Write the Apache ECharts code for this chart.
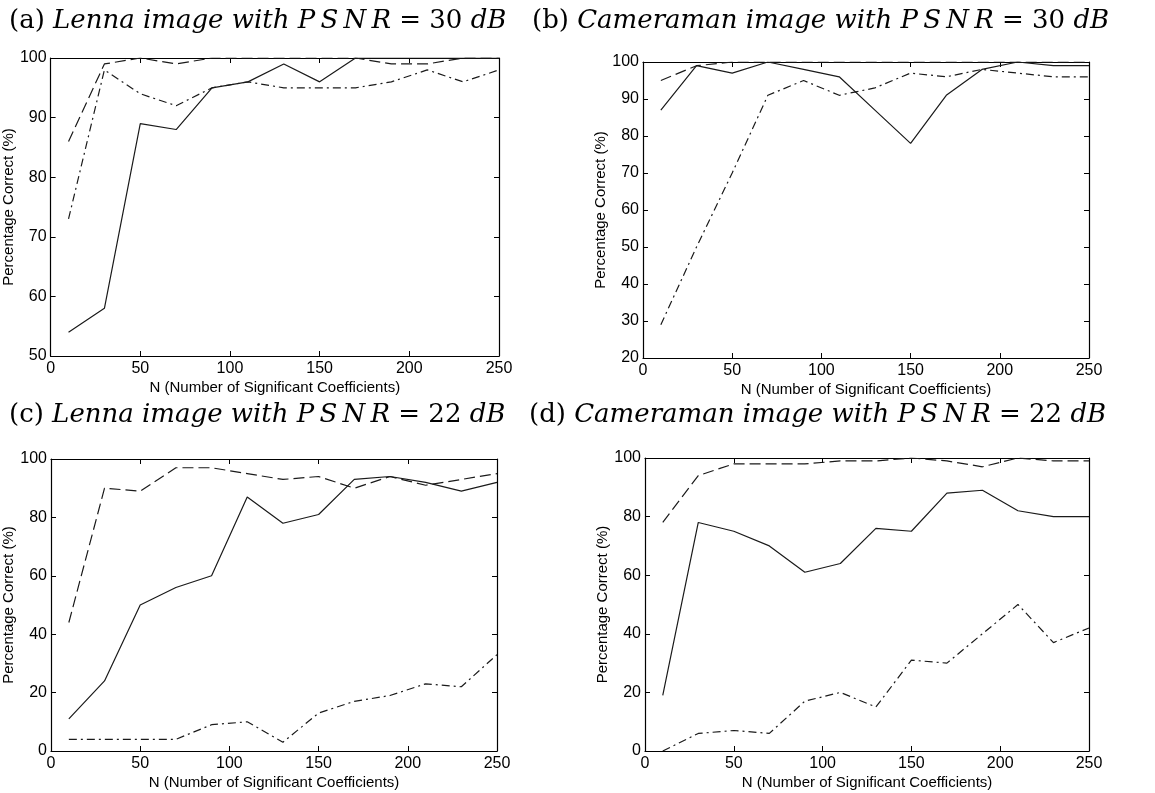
<!DOCTYPE html>
<html>
<head>
<meta charset="utf-8">
<script src="https://cdn.jsdelivr.net/npm/echarts@6/dist/echarts.min.js"></script>
<style>
html,body{margin:0;padding:0;background:#fff;}
#chart{width:1155px;height:793px;}
</style>
</head>
<body>
<div id="chart"></div>
<script>
// N (number of significant coefficients)
const nValues = [10, 30, 50, 70, 90, 110, 130, 150, 170, 190, 210, 230, 250];

// (a) Lenna, PSNR = 30 dB
const aSolid   = [54, 58, 89, 88, 95, 96, 99, 96, 100, 100, 100, 100, 100];
const aDashed  = [86, 99, 100, 99, 100, 100, 100, 100, 100, 99, 99, 100, 100];
const aDashDot = [73, 98, 94, 92, 95, 96, 95, 95, 95, 96, 98, 96, 98];

// (b) Cameraman, PSNR = 30 dB
const bSolid   = [87, 99, 97, 100, 98, 96, 87, 78, 91, 98, 100, 99, 99];
const bDashed  = [95, 99, 100, 100, 100, 100, 100, 100, 100, 100, 100, 100, 100];
const bDashDot = [29, 50, 70, 91, 95, 91, 93, 97, 96, 98, 97, 96, 96];

// (c) Lenna, PSNR = 22 dB
const cSolid   = [11, 24, 50, 56, 60, 87, 78, 81, 93, 94, 92, 89, 92];
const cDashed  = [44, 90, 89, 97, 97, 95, 93, 94, 90, 94, 91, 93, 95];
const cDashDot = [4, 4, 4, 4, 9, 10, 3, 13, 17, 19, 23, 22, 33];

// (d) Cameraman, PSNR = 22 dB
const dSolid   = [19, 78, 75, 70, 61, 64, 76, 75, 88, 89, 82, 80, 80];
const dDashed  = [78, 94, 98, 98, 98, 99, 99, 100, 99, 97, 100, 99, 99];
const dDashDot = [0, 6, 7, 6, 17, 20, 15, 31, 30, 40, 50, 37, 42];

// Titles / labels
const panelLetters = ['(a)', '(b)', '(c)', '(d)'];
const panelImages = ['Lenna', 'Cameraman', 'Lenna', 'Cameraman'];
const panelPsnr = ['30', '30', '22', '22'];
const xAxisName = 'N (Number of Significant Coefficients)';
const yAxisName = 'Percentage Correct (%)';
const yRanges = [[50, 100, 10], [20, 100, 10], [0, 100, 20], [0, 100, 20]];
const xRange = [0, 250, 50];

const panels = [
  {solid: aSolid, dashed: aDashed, dashdot: aDashDot},
  {solid: bSolid, dashed: bDashed, dashdot: bDashDot},
  {solid: cSolid, dashed: cDashed, dashdot: cDashDot},
  {solid: dSolid, dashed: dDashed, dashdot: dDashDot}
];

const grids = [
  {left: 49, top: 58, width: 450, height: 298},
  {left: 643, top: 62, width: 446, height: 296},
  {left: 51, top: 459, width: 446, height: 292},
  {left: 645, top: 458, width: 444, height: 293}
];
const titlePos = [
  {left: 4, top: 3},
  {left: 527, top: 3},
  {left: 4, top: 397},
  {left: 524, top: 397}
];

const sans = 'Liberation Sans, Arial, Helvetica, sans-serif';
const serif = 'DejaVu Serif, Liberation Serif, serif';
const lineColor = '#1a1a1a';
const thin = '\u2009';

const xAxes = [], yAxes = [], series = [], titles = [];
grids.forEach((g, i) => {
  const common = {gridIndex: i, type: 'value',
    axisLine: {show: true, onZero: false, lineStyle: {color: '#000', width: 1.2}},
    axisTick: {show: true, inside: true, length: 5, lineStyle: {color: '#000', width: 1}},
    splitLine: {show: false}};
  xAxes.push(Object.assign({}, common, {
    position: 'bottom', min: xRange[0], max: xRange[1], interval: xRange[2],
    axisLabel: {color: '#000', fontFamily: sans, fontSize: 16, margin: 5},
    name: xAxisName, nameLocation: 'middle', nameGap: 24,
    nameTextStyle: {color: '#000', fontFamily: sans, fontSize: 15}
  }));
  xAxes.push(Object.assign({}, common, {
    position: 'top', min: xRange[0], max: xRange[1], interval: xRange[2],
    axisLabel: {show: false}
  }));
  const yr = yRanges[i];
  yAxes.push(Object.assign({}, common, {
    position: 'left', min: yr[0], max: yr[1], interval: yr[2],
    axisLabel: {color: '#000', fontFamily: sans, fontSize: 16, margin: 4},
    name: yAxisName, nameLocation: 'middle', nameGap: 20,
    nameTextStyle: {color: '#000', fontFamily: sans, fontSize: 15}
  }));
  yAxes.push(Object.assign({}, common, {
    position: 'right', min: yr[0], max: yr[1], interval: yr[2],
    axisLabel: {show: false}
  }));
  const p = panels[i];
  const mk = (name, data, type) => ({
    name: name, type: 'line', xAxisIndex: 2 * i, yAxisIndex: 2 * i,
    data: nValues.map((n, k) => [n, data[k]]),
    symbol: 'none', silent: true, animation: false,
    lineStyle: {color: lineColor, width: 1.2, type: type}
  });
  series.push(mk('solid', p.solid, 'solid'));
  series.push(mk('dashed', p.dashed, [11, 5]));
  series.push(mk('dash-dot', p.dashdot, [8, 4, 2, 4]));
  const psnr = ['P', 'S', 'N', 'R'].join(thin);
  titles.push({
    left: titlePos[i].left, top: titlePos[i].top,
    text: '{n|' + panelLetters[i] + ' }{i|' + panelImages[i] + ' image with }{i|' + psnr + '}{n| = ' + panelPsnr[i] + ' }{i|dB}',
    textStyle: {
      fontWeight: 'normal',
      rich: {
        n: {fontFamily: serif, fontSize: 26, fontWeight: 'normal', color: '#000'},
        i: {fontFamily: serif, fontSize: 26, fontWeight: 'normal', fontStyle: 'italic', color: '#000'}
      }
    }
  });
});

const chart = echarts.init(document.getElementById('chart'));
chart.setOption({
  backgroundColor: '#fff',
  animation: false,
  title: titles,
  grid: grids,
  xAxis: xAxes,
  yAxis: yAxes,
  series: series
});
</script>
</body>
</html>
